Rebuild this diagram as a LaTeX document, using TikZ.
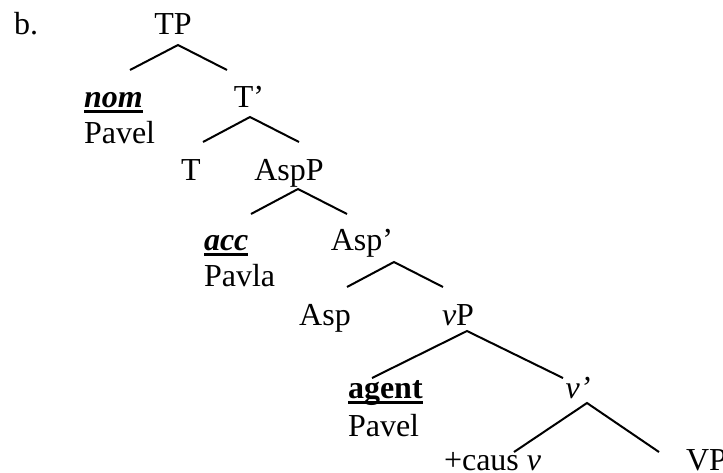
\documentclass[tikz,border=0pt]{standalone}
\usepackage{fontspec}
\setmainfont{Liberation Serif}
\newsavebox{\ulbox}
\newcommand{\heavyul}[1]{\sbox{\ulbox}{#1}\rlap{\rule[-3pt]{\wd\ulbox}{1.4pt}}\usebox{\ulbox}}

\begin{document}
\begin{tikzpicture}[x=0.5pt,y=-0.5pt,line width=1pt,
  lbl/.style={anchor=base,inner sep=0pt,font=\fontsize{16}{19}\selectfont},
  lft/.style={lbl,anchor=base west}]
\useasboundingbox (0,0) rectangle (723,472);

% labels
\node[lft] (b) at (13,34) {b.};
\node[lbl] (TP) at (173,34) {TP};
\node[lft] (nom) at (83,107) {\heavyul{\textbf{\textit{nom}}}};
\node[lft] (Pavel1) at (83,143) {Pavel};
\node[lbl] (T1) at (249,107) {T’};
\node[lbl] (T) at (191,180) {T};
\node[lbl] (AspP) at (289,180) {AspP};
\node[lft] (acc) at (203,250) {\heavyul{\textbf{\textit{acc}}}};
\node[lft] (Pavla) at (203,286) {Pavla};
\node[lbl] (Asp1) at (362,250) {Asp’};
\node[lbl] (Asp) at (325,325) {Asp};
\node[lbl] (vP) at (458,325) {\textit{v}P};
\node[lft] (agent) at (347,398) {\heavyul{\textbf{agent}}};
\node[lft] (Pavel2) at (347,436) {Pavel};
\node[lbl] (v1) at (578,398) {\textit{v’}};
\node[lft] (caus) at (443,470) {+caus \textit{v}};
\node[lft] (VP) at (685,470) {VP};

% branch points
\coordinate (TPt) at (178,45);  \coordinate (TPl) at (130,70);  \coordinate (TPr) at (227,70);
\coordinate (T1t) at (250,117); \coordinate (T1l) at (203,142); \coordinate (T1r) at (299,142);
\coordinate (APt) at (298,189); \coordinate (APl) at (251,214); \coordinate (APr) at (347,214);
\coordinate (A1t) at (394,262); \coordinate (A1l) at (347,287); \coordinate (A1r) at (443,287);
\coordinate (vPt) at (467,331); \coordinate (vPl) at (372,378); \coordinate (vPr) at (563,378);
\coordinate (v1t) at (587,403); \coordinate (v1l) at (514,452); \coordinate (v1r) at (659,452);

\draw (TPl) -- (TPt) -- (TPr);
\draw (T1l) -- (T1t) -- (T1r);
\draw (APl) -- (APt) -- (APr);
\draw (A1l) -- (A1t) -- (A1r);
\draw (vPl) -- (vPt) -- (vPr);
\draw (v1l) -- (v1t) -- (v1r);
\end{tikzpicture}
\end{document}
